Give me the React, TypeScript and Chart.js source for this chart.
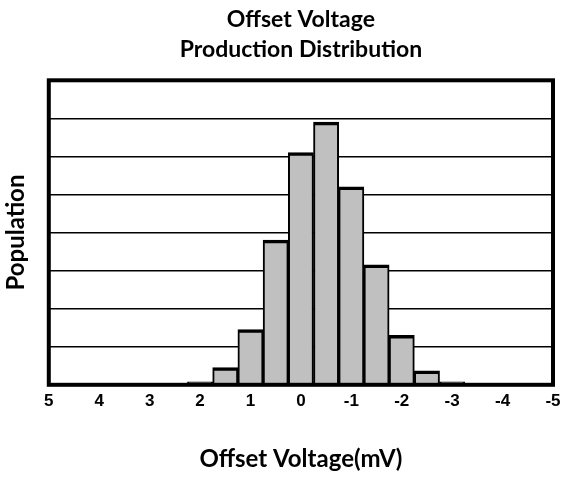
import React, { useEffect, useRef } from "react";
import { Chart, registerables } from "chart.js";

Chart.register(...registerables);

const binCenters = [2, 1.5, 1, 0.5, 0, -0.5, -1, -1.5, -2, -2.5, -3];
const population = [0.08, 0.45, 1.45, 3.8, 6.1, 6.9, 5.2, 3.15, 1.3, 0.37, 0.08];
const chartTitle = ["Offset Voltage", "Production Distribution"];
const xTitle = "Offset Voltage(mV)";
const yTitle = "Population";

const framePlugin = {
  id: "frame",
  afterDraw(chart: any) {
    const { ctx, chartArea } = chart;
    ctx.save();
    ctx.strokeStyle = "#000";
    ctx.lineWidth = 4;
    ctx.strokeRect(chartArea.left, chartArea.top, chartArea.right - chartArea.left, chartArea.bottom - chartArea.top);
    ctx.restore();
  },
};

export default function App() {
  const ref = useRef<HTMLCanvasElement | null>(null);
  useEffect(() => {
    if (!ref.current) return;
    const chart = new Chart(ref.current, {
      type: "bar",
      data: {
        datasets: [
          {
            data: binCenters.map((x, i) => ({ x, y: population[i] })),
            backgroundColor: "#C0C0C0",
            borderColor: "#000",
            borderWidth: { top: 3.5, left: 2, right: 2, bottom: 0 },
            borderSkipped: false,
            categoryPercentage: 1,
            barPercentage: 1,
          },
        ],
      },
      plugins: [framePlugin],
      options: {
        responsive: false,
        animation: false,
        layout: { padding: { top: 5, left: 2, right: 12, bottom: 6 } },
        plugins: {
          legend: { display: false },
          tooltip: { enabled: false },
          title: {
            display: true,
            fullSize: false,
            text: chartTitle,
            color: "#000",
            font: { family: "Lato", weight: "bold", size: 23, lineHeight: 1.3 },
            padding: { top: 0, bottom: 15.5 },
          },
        },
        scales: {
          x: {
            type: "linear",
            min: -5,
            max: 5,
            reverse: true,
            offset: false,
            grid: { display: false, drawTicks: true, tickLength: 6 },
            border: { display: false },
            ticks: {
              stepSize: 1,
              color: "#000",
              padding: 0,
              maxRotation: 0,
              autoSkip: false,
              font: { family: "Arial", weight: "bold", size: 17, lineHeight: 1.2 },
            },
            title: {
              display: true,
              text: xTitle,
              color: "#000",
              font: { family: "Lato", weight: "bold", size: 24, lineHeight: 1.2 },
              padding: { top: 34, bottom: 0 },
            },
          },
          y: {
            min: 0,
            max: 8,
            ticks: { display: false, stepSize: 1 },
            grid: { color: "#000", lineWidth: 1.5, drawTicks: false },
            border: { display: false },
            title: {
              display: true,
              text: yTitle,
              color: "#000",
              font: { family: "Lato", weight: "bold", size: 24, lineHeight: 1.2 },
              padding: { top: 0, bottom: 18 },
            },
          },
        },
      },
    });
    return () => chart.destroy();
  }, []);
  return (
    <div style={{ position: "fixed", left: 0, top: 0, width: 565, height: 480, background: "#fff" }}>
      <canvas ref={ref} width={565} height={480} />
    </div>
  );
}
